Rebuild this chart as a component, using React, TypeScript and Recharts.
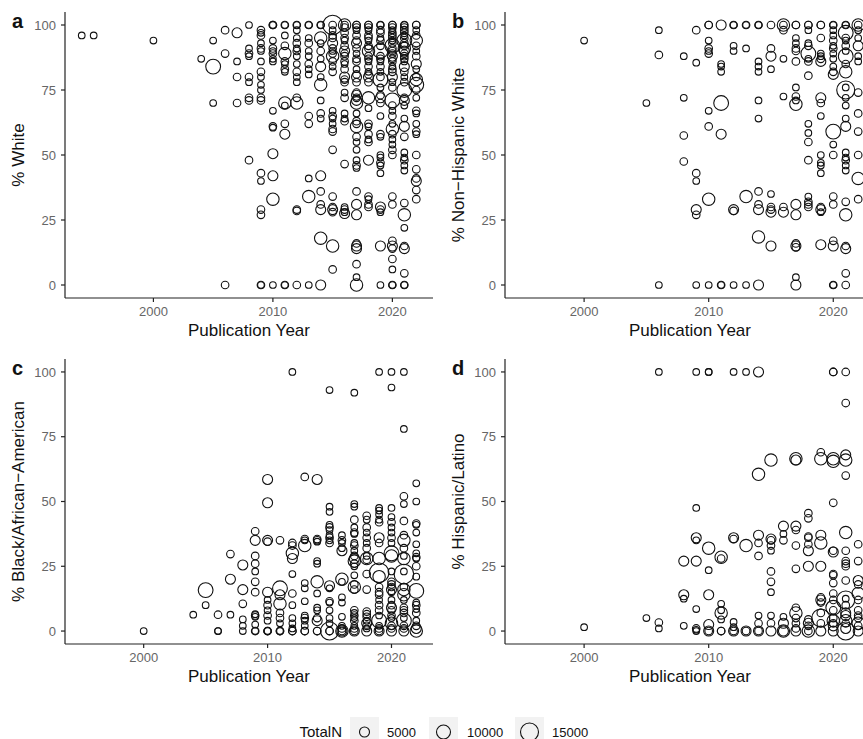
import { ScatterChart, Scatter, XAxis, YAxis, ZAxis } from 'recharts'

type Pt = [number, number, number] // [year, percent, TotalN]

const yearTicks = [2000, 2010, 2020]
const pctTicks = [0, 25, 50, 75, 100]
const legendSizes = [5000, 10000, 15000]

const whitePts: Pt[] = [
  [1994, 96, 800], [1995, 96, 800], [2000, 94, 800], [2004, 87, 800],
  [2005, 94, 800], [2005, 84, 11000], [2005, 70, 800],
  [2006, 98, 2000], [2006, 89, 2000], [2006, 0, 2000],
  [2007, 97, 5000], [2007, 86, 800], [2007, 80, 2000], [2007, 70, 2000],
  [2008, 100, 800], [2008, 91, 800], [2008, 89, 2000], [2008, 88, 800], [2008, 80, 2000], [2008, 78, 800], [2008, 72, 2000], [2008, 71, 2000], [2008, 48, 2000],
  [2009, 98, 2000], [2009, 97, 800], [2009, 96, 2000], [2009, 93, 800], [2009, 91, 2000], [2009, 90, 800], [2009, 86, 800], [2009, 82, 2000], [2009, 80, 800], [2009, 77, 800], [2009, 75, 800], [2009, 72, 2000], [2009, 71, 2000], [2009, 43, 2000], [2009, 40, 800], [2009, 29, 2000], [2009, 27, 2000], [2009, 0, 800], [2009, 0, 2000],
  [2010, 100, 2000], [2010, 100, 2000], [2010, 100, 800], [2010, 94, 800], [2010, 91, 2000], [2010, 90, 800], [2010, 89, 2000], [2010, 87, 800], [2010, 86, 800], [2010, 67, 800], [2010, 61, 2000], [2010, 60.5, 800], [2010, 50.5, 5000], [2010, 42, 5000], [2010, 33, 8000], [2010, 0, 800],
  [2011, 100, 2000], [2011, 100, 800], [2011, 96, 800], [2011, 92, 2000], [2011, 89, 8000], [2011, 86, 2000], [2011, 85, 800], [2011, 83, 2000], [2011, 82, 800], [2011, 70, 8000], [2011, 69, 800], [2011, 62, 2000], [2011, 58, 5000], [2011, 0, 2000], [2011, 0, 800],
  [2012, 100, 2000], [2012, 100, 800], [2012, 98, 800], [2012, 95, 800], [2012, 93, 2000], [2012, 91, 800], [2012, 90, 2000], [2012, 88, 800], [2012, 85, 800], [2012, 82, 2000], [2012, 80, 800], [2012, 78, 800], [2012, 72, 2000], [2012, 70, 8000], [2012, 29, 2000], [2012, 28.5, 2000], [2012, 0, 2000],
  [2013, 100, 2000], [2013, 100, 800], [2013, 95, 800], [2013, 93, 2000], [2013, 90, 800], [2013, 88, 800], [2013, 85, 2000], [2013, 83, 800], [2013, 81, 800], [2013, 65, 2000], [2013, 62, 2000], [2013, 41, 800], [2013, 34, 8000], [2013, 0, 800],
  [2014, 100, 2000], [2014, 100, 800], [2014, 95, 8000], [2014, 93, 800], [2014, 90, 2000], [2014, 87, 800], [2014, 84, 5000], [2014, 80, 800], [2014, 77, 8000], [2014, 71, 800], [2014, 66, 2000], [2014, 64, 800], [2014, 42, 5000], [2014, 36, 2000], [2014, 31, 2000], [2014, 29, 5000], [2014, 18, 8000], [2014, 0, 5000],
  [2015, 100, 17000], [2015, 100, 2000], [2015, 98, 800], [2015, 96, 2000], [2015, 95, 2000], [2015, 93, 5000], [2015, 91, 2000], [2015, 90, 800], [2015, 89, 2000], [2015, 88, 8000], [2015, 86, 2000], [2015, 84, 800], [2015, 82, 2000], [2015, 67, 800], [2015, 65, 2000], [2015, 64, 800], [2015, 62, 800], [2015, 60, 2000], [2015, 59, 2000], [2015, 52, 2000], [2015, 34, 2000], [2015, 30, 2000], [2015, 29, 5000], [2015, 28, 2000], [2015, 15, 8000], [2015, 6, 2000],
  [2016, 100, 8000], [2016, 100, 2000], [2016, 99, 2000], [2016, 97, 2000], [2016, 95, 2000], [2016, 94, 800], [2016, 92, 2000], [2016, 90, 5000], [2016, 89, 2000], [2016, 88, 2000], [2016, 86, 2000], [2016, 85, 800], [2016, 83, 2000], [2016, 80, 5000], [2016, 79, 2000], [2016, 78, 2000], [2016, 74, 800], [2016, 72, 2000], [2016, 66, 800], [2016, 64, 800], [2016, 63, 2000], [2016, 46.5, 2000], [2016, 30, 800], [2016, 29, 2000], [2016, 28, 800], [2016, 27.5, 5000],
  [2017, 100, 2000], [2017, 100, 2000], [2017, 99, 2000], [2017, 98, 800], [2017, 96, 2000], [2017, 94, 2000], [2017, 93, 5000], [2017, 91, 2000], [2017, 89, 800], [2017, 87, 2000], [2017, 86, 2000], [2017, 83, 800], [2017, 81, 2000], [2017, 80, 5000], [2017, 78, 2000], [2017, 74, 2000], [2017, 73, 5000], [2017, 72, 2000], [2017, 71, 5000], [2017, 70, 8000], [2017, 66, 800], [2017, 63, 2000], [2017, 62, 2000], [2017, 61, 8000], [2017, 57, 2000], [2017, 55, 800], [2017, 52, 800], [2017, 48, 800], [2017, 46, 2000], [2017, 45, 800], [2017, 36, 2000], [2017, 31, 5000], [2017, 27, 5000], [2017, 16, 2000], [2017, 15, 5000], [2017, 14, 5000], [2017, 8, 2000], [2017, 3, 800], [2017, 0, 8000],
  [2018, 100, 2000], [2018, 100, 2000], [2018, 99, 2000], [2018, 98, 800], [2018, 96, 2000], [2018, 95, 2000], [2018, 94, 800], [2018, 92, 2000], [2018, 91, 2000], [2018, 90, 8000], [2018, 88, 2000], [2018, 87, 2000], [2018, 86, 800], [2018, 84, 2000], [2018, 82, 800], [2018, 81, 2000], [2018, 80, 5000], [2018, 78, 2000], [2018, 72, 8000], [2018, 68, 800], [2018, 62, 2000], [2018, 61, 800], [2018, 58, 2000], [2018, 56, 800], [2018, 55, 2000], [2018, 48, 5000], [2018, 34, 2000], [2018, 33, 800], [2018, 31, 2000], [2018, 30, 2000],
  [2019, 100, 2000], [2019, 100, 800], [2019, 98, 2000], [2019, 97, 2000], [2019, 95, 800], [2019, 94, 2000], [2019, 92, 2000], [2019, 90, 11000], [2019, 88, 2000], [2019, 87, 2000], [2019, 86, 800], [2019, 84, 2000], [2019, 82, 800], [2019, 80, 2000], [2019, 79, 11000], [2019, 76, 800], [2019, 73, 2000], [2019, 72, 5000], [2019, 70, 2000], [2019, 65, 800], [2019, 58, 2000], [2019, 57, 800], [2019, 50, 800], [2019, 49, 800], [2019, 47, 2000], [2019, 46, 800], [2019, 43, 800], [2019, 30, 5000], [2019, 29, 2000], [2019, 28, 800], [2019, 15, 5000], [2019, 0, 800],
  [2020, 100, 2000], [2020, 100, 2000], [2020, 99, 2000], [2020, 98, 800], [2020, 97, 2000], [2020, 96, 2000], [2020, 95, 2000], [2020, 94, 800], [2020, 93, 2000], [2020, 92, 11000], [2020, 91, 2000], [2020, 90, 2000], [2020, 89, 2000], [2020, 88, 5000], [2020, 87, 2000], [2020, 86, 2000], [2020, 84, 800], [2020, 83, 2000], [2020, 82, 2000], [2020, 80, 5000], [2020, 78, 800], [2020, 76, 2000], [2020, 71, 11000], [2020, 69, 2000], [2020, 67, 800], [2020, 65, 2000], [2020, 62, 800], [2020, 60, 8000], [2020, 58, 2000], [2020, 56, 800], [2020, 54, 800], [2020, 52, 2000], [2020, 50, 2000], [2020, 34, 2000], [2020, 31, 2000], [2020, 17, 2000], [2020, 15, 5000], [2020, 14, 2000], [2020, 10, 2000], [2020, 6, 800], [2020, 0, 2000], [2020, 0, 800],
  [2021, 100, 2000], [2021, 100, 800], [2021, 99, 2000], [2021, 98, 2000], [2021, 97, 2000], [2021, 96, 800], [2021, 95, 2000], [2021, 94, 11000], [2021, 93, 2000], [2021, 92, 2000], [2021, 91, 8000], [2021, 90, 5000], [2021, 89, 2000], [2021, 88, 2000], [2021, 87, 2000], [2021, 86, 800], [2021, 84, 5000], [2021, 82, 2000], [2021, 80, 800], [2021, 78, 2000], [2021, 75, 11000], [2021, 72, 2000], [2021, 71, 5000], [2021, 69, 800], [2021, 64, 800], [2021, 61, 5000], [2021, 57, 2000], [2021, 51, 800], [2021, 49, 800], [2021, 48, 2000], [2021, 46, 800], [2021, 44, 800], [2021, 31.5, 2000], [2021, 27, 8000], [2021, 22, 800], [2021, 15, 2000], [2021, 14, 5000], [2021, 4.5, 2000], [2021, 0, 2000], [2021, 0, 800],
  [2022, 100, 2000], [2022, 100, 2000], [2022, 98, 800], [2022, 96, 2000], [2022, 94, 8000], [2022, 92, 2000], [2022, 90, 800], [2022, 88, 2000], [2022, 85, 5000], [2022, 83, 800], [2022, 80, 2000], [2022, 79, 8000], [2022, 77, 11000], [2022, 75, 2000], [2022, 72, 800], [2022, 67, 2000], [2022, 66, 800], [2022, 62, 800], [2022, 59, 2000], [2022, 58, 800], [2022, 50, 2000], [2022, 44.5, 2000], [2022, 41, 2000], [2022, 40, 5000], [2022, 36.5, 2000], [2022, 33, 2000],
]

const nhWhitePts: Pt[] = [
  [2000, 94, 800], [2005, 70, 800],
  [2006, 98, 800], [2006, 88.5, 2000], [2006, 0, 800],
  [2008, 88, 800], [2008, 72, 800], [2008, 57.5, 2000], [2008, 47.5, 2000],
  [2009, 98, 2000], [2009, 85.5, 800], [2009, 43, 2000], [2009, 40, 800], [2009, 29, 5000], [2009, 27, 2000], [2009, 0, 800],
  [2010, 100, 2000], [2010, 100, 2000], [2010, 94, 800], [2010, 91, 2000], [2010, 90, 800], [2010, 89, 2000], [2010, 67, 800], [2010, 61, 2000], [2010, 33, 8000], [2010, 0, 800],
  [2011, 100, 5000], [2011, 85, 800], [2011, 84, 800], [2011, 82, 800], [2011, 70, 11000], [2011, 58, 5000], [2011, 0, 2000], [2011, 0, 800],
  [2012, 100, 2000], [2012, 100, 800], [2012, 92, 800], [2012, 90, 800], [2012, 29, 5000], [2012, 28.5, 2000], [2012, 0, 800],
  [2013, 100, 2000], [2013, 100, 800], [2013, 91, 800], [2013, 34, 8000], [2013, 0, 800],
  [2014, 100, 2000], [2014, 100, 800], [2014, 86, 800], [2014, 84, 800], [2014, 82, 800], [2014, 71, 800], [2014, 64, 800], [2014, 36, 2000], [2014, 31, 2000], [2014, 29, 5000], [2014, 18.5, 8000], [2014, 0, 5000],
  [2015, 100, 2000], [2015, 91, 2000], [2015, 88, 5000], [2015, 83, 800], [2015, 35, 800], [2015, 30, 2000], [2015, 29, 2000], [2015, 28, 5000], [2015, 15, 5000],
  [2016, 100, 8000], [2016, 100, 2000], [2016, 98, 2000], [2016, 87, 800], [2016, 72.5, 800], [2016, 30, 2000], [2016, 28, 5000],
  [2017, 100, 2000], [2017, 100, 2000], [2017, 95, 800], [2017, 93, 800], [2017, 91, 2000], [2017, 90, 2000], [2017, 86, 2000], [2017, 76, 800], [2017, 72.5, 2000], [2017, 71, 800], [2017, 69.5, 8000], [2017, 31, 5000], [2017, 27, 5000], [2017, 16, 2000], [2017, 15, 5000], [2017, 14.5, 2000], [2017, 3, 800], [2017, 0, 5000],
  [2018, 100, 2000], [2018, 100, 2000], [2018, 98, 800], [2018, 93, 800], [2018, 92, 2000], [2018, 89, 11000], [2018, 87, 800], [2018, 86, 2000], [2018, 80.5, 2000], [2018, 62, 800], [2018, 58.5, 800], [2018, 55, 2000], [2018, 48, 2000], [2018, 34, 800], [2018, 32, 2000], [2018, 31, 2000], [2018, 30, 2000],
  [2019, 100, 2000], [2019, 100, 2000], [2019, 95, 2000], [2019, 89, 800], [2019, 88, 800], [2019, 87, 2000], [2019, 86, 5000], [2019, 72, 5000], [2019, 70, 2000], [2019, 65, 800], [2019, 50, 800], [2019, 47, 800], [2019, 46, 800], [2019, 43, 800], [2019, 30, 2000], [2019, 29, 5000], [2019, 28, 800], [2019, 15.5, 5000],
  [2020, 100, 2000], [2020, 100, 800], [2020, 98, 800], [2020, 96, 800], [2020, 94, 2000], [2020, 92, 800], [2020, 91, 2000], [2020, 89, 800], [2020, 87, 800], [2020, 84, 800], [2020, 82, 2000], [2020, 81, 5000], [2020, 59, 11000], [2020, 54, 800], [2020, 50, 2000], [2020, 34, 2000], [2020, 31, 2000], [2020, 17, 2000], [2020, 15, 5000], [2020, 0, 2000], [2020, 0, 800],
  [2021, 100, 2000], [2021, 100, 800], [2021, 97, 11000], [2021, 95, 2000], [2021, 94, 800], [2021, 92, 2000], [2021, 90, 800], [2021, 88, 11000], [2021, 85, 2000], [2021, 82, 8000], [2021, 76, 800], [2021, 75, 15000], [2021, 72, 800], [2021, 69, 800], [2021, 64, 800], [2021, 61, 5000], [2021, 51, 800], [2021, 49, 800], [2021, 48, 2000], [2021, 46, 800], [2021, 44, 800], [2021, 32, 2000], [2021, 27, 8000], [2021, 15, 2000], [2021, 14, 5000], [2021, 4.5, 2000], [2021, 0, 2000],
  [2022, 100, 8000], [2022, 100, 2000], [2022, 98, 800], [2022, 95, 800], [2022, 92, 5000], [2022, 88, 800], [2022, 86, 800], [2022, 74, 2000], [2022, 66, 2000], [2022, 59, 2000], [2022, 50, 2000], [2022, 41, 8000], [2022, 33, 2000],
]

const blackPts: Pt[] = [
  [2000, 0, 800], [2004, 6.3, 800],
  [2005, 15.8, 11000], [2005, 10, 800],
  [2006, 6.3, 2000], [2006, 0, 800], [2006, 0, 800],
  [2007, 29.7, 2000], [2007, 20, 5000], [2007, 6.3, 800],
  [2008, 25.5, 5000], [2008, 16, 5000], [2008, 10.5, 2000], [2008, 4.5, 800], [2008, 2, 800], [2008, 0, 800],
  [2009, 38.5, 2000], [2009, 35, 5000], [2009, 29, 2000], [2009, 26, 2000], [2009, 23, 800], [2009, 19, 2000], [2009, 15, 2000], [2009, 6.5, 800], [2009, 6, 2000], [2009, 5.5, 800], [2009, 2.5, 800], [2009, 0, 2000], [2009, 0, 800],
  [2010, 58.5, 5000], [2010, 49.5, 5000], [2010, 35, 5000], [2010, 34.5, 2000], [2010, 15, 5000], [2010, 12, 800], [2010, 10, 2000], [2010, 8, 800], [2010, 6, 2000], [2010, 4, 800], [2010, 0, 2000], [2010, 0, 2000], [2010, 0, 800],
  [2011, 35, 2000], [2011, 16.5, 11000], [2011, 14, 5000], [2011, 10.5, 8000], [2011, 7, 2000], [2011, 5, 2000], [2011, 3, 800], [2011, 0, 2000], [2011, 0, 2000], [2011, 0, 800],
  [2012, 100, 800], [2012, 34, 2000], [2012, 33, 2000], [2012, 30, 8000], [2012, 28, 5000], [2012, 22, 800], [2012, 14.5, 2000], [2012, 10, 800], [2012, 5, 800], [2012, 3, 800], [2012, 1, 800], [2012, 0, 2000], [2012, 0, 2000],
  [2013, 59.5, 2000], [2013, 35.5, 2000], [2013, 35, 800], [2013, 33, 8000], [2013, 18.5, 800], [2013, 16.5, 800], [2013, 11.5, 800], [2013, 6, 800], [2013, 5, 2000], [2013, 4, 800], [2013, 2, 800], [2013, 0, 2000], [2013, 0, 2000],
  [2014, 58.5, 5000], [2014, 35.5, 2000], [2014, 35, 2000], [2014, 34.5, 800], [2014, 27, 800], [2014, 26, 800], [2014, 19, 8000], [2014, 14.5, 800], [2014, 9, 800], [2014, 8, 800], [2014, 5, 2000], [2014, 4, 5000], [2014, 0, 2000], [2014, 0, 2000],
  [2015, 93, 800], [2015, 48, 800], [2015, 46, 800], [2015, 41, 800], [2015, 40, 2000], [2015, 39, 800], [2015, 37, 800], [2015, 36, 2000], [2015, 35, 800], [2015, 34, 2000], [2015, 17.5, 5000], [2015, 16.5, 800], [2015, 11.5, 2000], [2015, 11, 800], [2015, 8, 800], [2015, 5, 800], [2015, 3, 800], [2015, 0, 15000], [2015, 0, 2000], [2015, 0, 2000],
  [2016, 37, 800], [2016, 35, 2000], [2016, 34, 800], [2016, 32, 800], [2016, 31, 5000], [2016, 20, 8000], [2016, 19, 800], [2016, 13, 800], [2016, 11, 800], [2016, 5.5, 800], [2016, 2, 800], [2016, 1, 2000], [2016, 0, 8000], [2016, 0, 5000], [2016, 0, 2000],
  [2017, 92, 800], [2017, 49, 800], [2017, 48, 800], [2017, 43, 2000], [2017, 40, 800], [2017, 38, 2000], [2017, 37.5, 800], [2017, 34, 800], [2017, 33, 2000], [2017, 31, 800], [2017, 29, 2000], [2017, 28, 5000], [2017, 27, 8000], [2017, 26, 2000], [2017, 25, 800], [2017, 21.5, 800], [2017, 18, 2000], [2017, 17, 8000], [2017, 16, 2000], [2017, 8, 2000], [2017, 7, 800], [2017, 6, 2000], [2017, 5, 800], [2017, 4, 2000], [2017, 2, 800], [2017, 1, 2000], [2017, 0, 5000], [2017, 0, 2000],
  [2018, 44.5, 2000], [2018, 43, 800], [2018, 40, 2000], [2018, 38, 800], [2018, 36, 2000], [2018, 34, 800], [2018, 32, 2000], [2018, 29, 800], [2018, 28, 8000], [2018, 27.5, 2000], [2018, 22, 2000], [2018, 16, 2000], [2018, 7.5, 2000], [2018, 6.5, 2000], [2018, 5.5, 2000], [2018, 4, 800], [2018, 3, 5000], [2018, 2, 2000], [2018, 1, 800], [2018, 0, 5000],
  [2019, 100, 800], [2019, 47.5, 800], [2019, 46.5, 800], [2019, 45, 800], [2019, 43, 800], [2019, 42, 2000], [2019, 36, 5000], [2019, 34, 2000], [2019, 28, 8000], [2019, 22.5, 17000], [2019, 21, 8000], [2019, 17, 2000], [2019, 15, 2000], [2019, 14, 2000], [2019, 12, 800], [2019, 10, 2000], [2019, 8, 2000], [2019, 6, 800], [2019, 4, 11000], [2019, 2, 800], [2019, 1, 2000], [2019, 0, 5000], [2019, 0, 2000],
  [2020, 100, 800], [2020, 94, 800], [2020, 47.5, 800], [2020, 44, 800], [2020, 42, 2000], [2020, 40, 800], [2020, 38, 800], [2020, 36, 2000], [2020, 34, 800], [2020, 30, 11000], [2020, 29, 8000], [2020, 23, 800], [2020, 19, 2000], [2020, 18, 2000], [2020, 17, 2000], [2020, 16, 5000], [2020, 15, 800], [2020, 12, 800], [2020, 10, 2000], [2020, 9, 5000], [2020, 8, 2000], [2020, 6, 2000], [2020, 5, 800], [2020, 3, 8000], [2020, 2, 2000], [2020, 1, 2000], [2020, 0, 5000],
  [2021, 100, 800], [2021, 78, 800], [2021, 52, 2000], [2021, 49, 800], [2021, 42.5, 2000], [2021, 37, 2000], [2021, 35, 8000], [2021, 32, 2000], [2021, 29, 800], [2021, 28, 8000], [2021, 23, 800], [2021, 22, 17000], [2021, 17, 2000], [2021, 16, 8000], [2021, 14, 8000], [2021, 12, 800], [2021, 9, 2000], [2021, 8, 2000], [2021, 7, 2000], [2021, 5, 800], [2021, 4, 11000], [2021, 2, 2000], [2021, 1, 2000], [2021, 0, 5000],
  [2022, 57, 800], [2022, 50, 800], [2022, 41.5, 2000], [2022, 41, 800], [2022, 38, 800], [2022, 33.5, 800], [2022, 30, 800], [2022, 28.5, 2000], [2022, 28, 800], [2022, 25, 2000], [2022, 21, 800], [2022, 15.5, 11000], [2022, 11, 800], [2022, 10, 2000], [2022, 8.5, 800], [2022, 7, 2000], [2022, 4, 800], [2022, 2, 2000], [2022, 1, 5000], [2022, 0, 8000],
]

const hispPts: Pt[] = [
  [2000, 1.5, 800], [2005, 5, 800],
  [2006, 100, 800], [2006, 3.3, 2000], [2006, 1, 800],
  [2008, 27, 5000], [2008, 14, 5000], [2008, 12.5, 800], [2008, 2, 800],
  [2009, 100, 800], [2009, 47.5, 800], [2009, 36, 5000], [2009, 35, 800], [2009, 27, 5000], [2009, 8.5, 800], [2009, 1, 2000], [2009, 0.5, 800], [2009, 0, 800],
  [2010, 100, 800], [2010, 100, 800], [2010, 32, 8000], [2010, 23.5, 800], [2010, 14, 5000], [2010, 2.5, 5000], [2010, 0, 5000], [2010, 0, 2000],
  [2011, 28.5, 8000], [2011, 28, 2000], [2011, 10.5, 800], [2011, 8, 800], [2011, 7, 8000], [2011, 4.5, 800], [2011, 0, 2000], [2011, 0, 2000],
  [2012, 100, 800], [2012, 36, 5000], [2012, 35.5, 2000], [2012, 3.5, 800], [2012, 1.5, 800], [2012, 0, 5000], [2012, 0, 2000],
  [2013, 100, 800], [2013, 33, 8000], [2013, 0, 5000], [2013, 0, 2000],
  [2014, 100, 5000], [2014, 60.5, 8000], [2014, 37, 5000], [2014, 34, 2000], [2014, 29, 2000], [2014, 6, 800], [2014, 3, 2000], [2014, 0, 5000], [2014, 0, 2000],
  [2015, 66, 8000], [2015, 35.5, 5000], [2015, 35, 2000], [2015, 33, 2000], [2015, 31, 800], [2015, 23, 2000], [2015, 19, 2000], [2015, 15, 800], [2015, 6, 800], [2015, 3, 2000], [2015, 0, 5000],
  [2016, 40.5, 5000], [2016, 37.5, 800], [2016, 35, 2000], [2016, 5.5, 800], [2016, 3, 5000], [2016, 0, 8000], [2016, 0, 5000],
  [2017, 66.5, 8000], [2017, 66, 5000], [2017, 40.5, 5000], [2017, 39, 2000], [2017, 33, 2000], [2017, 24, 2000], [2017, 9, 2000], [2017, 7, 8000], [2017, 5, 2000], [2017, 3, 2000], [2017, 1, 2000], [2017, 0, 5000],
  [2018, 45.5, 2000], [2018, 43.5, 2000], [2018, 36.5, 2000], [2018, 36, 2000], [2018, 33.5, 2000], [2018, 31, 5000], [2018, 25, 5000], [2018, 4.5, 2000], [2018, 3, 5000], [2018, 2, 2000], [2018, 0, 8000], [2018, 0, 2000],
  [2019, 69, 2000], [2019, 66.5, 8000], [2019, 37, 5000], [2019, 34, 8000], [2019, 25, 5000], [2019, 13, 2000], [2019, 12, 5000], [2019, 11, 2000], [2019, 7, 2000], [2019, 5, 15000], [2019, 3, 2000], [2019, 0, 5000],
  [2020, 100, 2000], [2020, 100, 2000], [2020, 66.5, 8000], [2020, 65.5, 8000], [2020, 49.5, 2000], [2020, 31, 2000], [2020, 30.5, 5000], [2020, 22, 2000], [2020, 21.5, 2000], [2020, 18.5, 2000], [2020, 14.5, 2000], [2020, 12, 2000], [2020, 9, 11000], [2020, 8, 2000], [2020, 5, 2000], [2020, 4, 8000], [2020, 3, 2000], [2020, 2, 5000], [2020, 0, 5000],
  [2021, 100, 2000], [2021, 88, 2000], [2021, 68, 5000], [2021, 66, 8000], [2021, 60, 2000], [2021, 38, 8000], [2021, 31, 2000], [2021, 27, 2000], [2021, 26, 2000], [2021, 25, 2000], [2021, 19.5, 2000], [2021, 12, 15000], [2021, 12.5, 800], [2021, 10, 2000], [2021, 7, 5000], [2021, 6, 5000], [2021, 4, 8000], [2021, 3, 2000], [2021, 1, 5000], [2021, 0, 15000],
  [2022, 33.5, 2000], [2022, 27, 2000], [2022, 19.5, 5000], [2022, 18, 2000], [2022, 14.5, 8000], [2022, 12, 2000], [2022, 8, 2000], [2022, 6, 2000], [2022, 5, 2000], [2022, 3, 8000], [2022, 2, 2000], [2022, 0, 5000],
]

const FONT = '"Liberation Sans", Arial, Helvetica, sans-serif'
const INK = '#111'
const N_DOMAIN: [number, number] = [0, 17500]
const R_RANGE: [number, number] = [3, 10]

// ZAxis hands the scaled n through as `size`; we use it as the radius
function Bubble(props: any) {
  const { cx, cy, size } = props
  if (cx == null || cy == null) return null
  return <circle cx={cx} cy={cy} r={size} fill="none" stroke={INK} strokeWidth={1.1} />
}

interface PanelProps {
  pts: Pt[]
  yLabel: string
  xDomain: [number, number]
  left: number
  top: number
  height: number
  right: number
}

function Panel({ pts, yLabel, xDomain, left, top, height, right }: PanelProps) {
  const data = pts.map(([year, pct, n]) => ({ year, pct, n }))
  const axisLine = { stroke: '#222', strokeWidth: 1.2 }
  return (
    <div style={{ position: 'absolute', left, top }}>
      <ScatterChart width={440} height={height} margin={{ top: 12, right, bottom: 0, left: 0 }}>
        <XAxis
          type="number"
          dataKey="year"
          domain={xDomain}
          ticks={yearTicks}
          allowDataOverflow
          height={52}
          axisLine={axisLine}
          tickLine={axisLine}
          tickSize={4}
          tickMargin={5}
          tick={{ fill: '#666', fontSize: 13, fontFamily: FONT }}
          label={{ value: 'Publication Year', position: 'insideBottom', offset: 14, fill: INK, fontSize: 17, fontFamily: FONT }}
        />
        <YAxis
          type="number"
          dataKey="pct"
          domain={[-5, 105]}
          ticks={pctTicks}
          allowDataOverflow
          width={65}
          axisLine={axisLine}
          tickLine={axisLine}
          tickSize={4}
          tickMargin={5}
          tick={{ fill: '#666', fontSize: 13, fontFamily: FONT }}
          label={{ value: yLabel, angle: -90, position: 'insideLeft', offset: 18, fill: INK, fontSize: 17, fontFamily: FONT, style: { textAnchor: 'middle' } }}
        />
        <ZAxis type="number" dataKey="n" domain={N_DOMAIN} range={R_RANGE} />
        <Scatter data={data} shape={<Bubble />} isAnimationActive={false} />
      </ScatterChart>
    </div>
  )
}

const legendR = (n: number) => R_RANGE[0] + ((R_RANGE[1] - R_RANGE[0]) * n) / N_DOMAIN[1]

export default function App() {
  const keyX = [350, 429, 515]
  const labelX = [387, 467, 552]
  return (
    <div style={{ position: 'absolute', left: 0, top: 0, width: 863, height: 739, overflow: 'hidden', background: '#fff', fontFamily: FONT }}>
      <Panel pts={whitePts} yLabel="% White" xDomain={[1992.6, 2023.4]} left={0} top={0} height={350} right={7} />
      <Panel pts={nhWhitePts} yLabel="% Non−Hispanic White" xDomain={[1993.65, 2023.35]} left={440} top={0} height={350} right={5} />
      <Panel pts={blackPts} yLabel="% Black/African−American" xDomain={[1993.65, 2023.35]} left={0} top={347} height={349} right={7} />
      <Panel pts={hispPts} yLabel="% Hispanic/Latino" xDomain={[1993.65, 2023.35]} left={440} top={347} height={349} right={5} />
      <svg width={863} height={739} style={{ position: 'absolute', left: 0, top: 0, pointerEvents: 'none' }}>
        <g fontFamily={FONT} fontWeight="bold" fontSize={20} fill={INK}>
          <text x={12} y={28}>a</text>
          <text x={452} y={28}>b</text>
          <text x={12} y={375}>c</text>
          <text x={452} y={375}>d</text>
        </g>
        <text x={342} y={737} textAnchor="end" fontFamily={FONT} fontSize={15} fill={INK}>TotalN</text>
        {legendSizes.map((n, i) => (
          <g key={n}>
            <rect x={keyX[i]} y={717} width={29} height={29} fill="#f2f2f2" />
            <circle cx={keyX[i] + 14.5} cy={732} r={legendR(n)} fill="none" stroke={INK} strokeWidth={1.1} />
            <text x={labelX[i]} y={737} fontFamily={FONT} fontSize={13} fill={INK}>{n}</text>
          </g>
        ))}
      </svg>
    </div>
  )
}
